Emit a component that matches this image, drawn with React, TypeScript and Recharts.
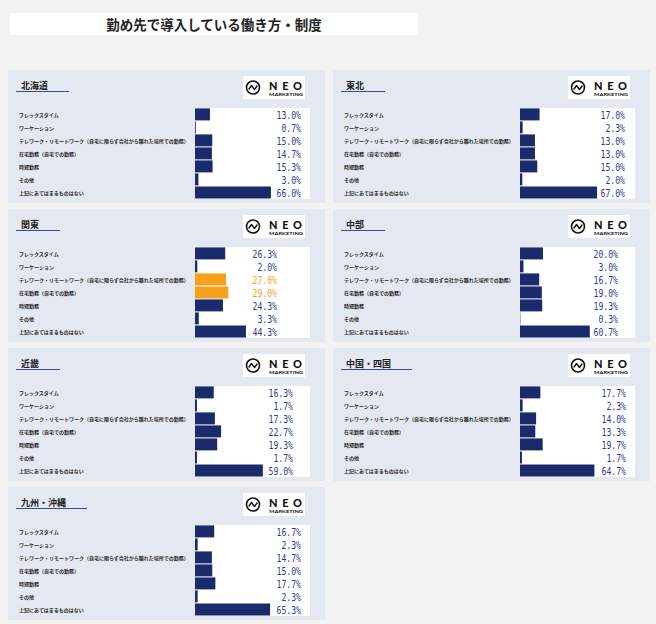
import { BarChart, Bar, XAxis, YAxis, Cell, LabelList } from 'recharts'

const title = '勤め先で導入している働き方・制度'

const categories = [
  'フレックスタイム',
  'ワーケーション',
  'テレワーク・リモートワーク（自宅に限らず会社から離れた場所での勤務）',
  '在宅勤務（自宅での勤務）',
  '時短勤務',
  'その他',
  '上記にあてはまるものはない',
]

const hokkaido = [13.0, 0.7, 15.0, 14.7, 15.3, 3.0, 66.0]
const tohoku = [17.0, 2.3, 13.0, 13.0, 15.0, 2.0, 67.0]
const kanto = [26.3, 2.0, 27.0, 29.0, 24.3, 3.3, 44.3]
const chubu = [20.0, 3.0, 16.7, 19.0, 19.3, 0.3, 60.7]
const kinki = [16.3, 1.7, 17.3, 22.7, 19.3, 1.7, 59.0]
const chugokuShikoku = [17.7, 2.3, 14.0, 13.3, 19.7, 1.7, 64.7]
const kyushu = [16.7, 2.3, 14.7, 15.0, 17.7, 2.3, 65.3]

const kantoHighlight = [2, 3]

const NAVY = '#1b2a6b'
const LABEL_NAVY = '#2c3b8f'
const ORANGE = '#f5a11c'

// layout of each panel: position on page + where the value labels end
const panels = [
  { name: '北海道', values: hokkaido, highlight: [] as number[], x: 8, y: 70, labelRight: 106 },
  { name: '東北', values: tohoku, highlight: [] as number[], x: 333, y: 70, labelRight: 105 },
  { name: '関東', values: kanto, highlight: kantoHighlight, x: 8, y: 209, labelRight: 82 },
  { name: '中部', values: chubu, highlight: [] as number[], x: 333, y: 209, labelRight: 98 },
  { name: '近畿', values: kinki, highlight: [] as number[], x: 8, y: 348, labelRight: 98 },
  { name: '中国・四国', values: chugokuShikoku, highlight: [] as number[], x: 333, y: 348, labelRight: 106 },
  { name: '九州・沖縄', values: kyushu, highlight: [] as number[], x: 8, y: 487, labelRight: 106 },
]

const JP = '"Noto Sans CJK JP", "Noto Sans", sans-serif'

function Logo() {
  return (
    <svg width={62} height={23} style={{ position: 'absolute', left: 235, top: 6 }}>
      <rect x={0} y={0} width={62} height={23} fill="#fff" />
      <circle cx={10} cy={11.5} r={6.5} fill="none" stroke="#111" strokeWidth={1.6} />
      <path d="M6,13 L8.5,9.5 L11.5,13.5 L14,10" fill="none" stroke="#111" strokeWidth={1.4} strokeLinejoin="round" strokeLinecap="round" />
      <text x={26} y={13.8} fontSize={11} fontWeight={900} fontFamily="Lato, sans-serif" fill="#111" textLength={33} lengthAdjust="spacing">
        NEO
      </text>
      <text x={26} y={19.6} fontSize={3.8} fontWeight={700} fontFamily="Lato, sans-serif" fill="#111" textLength={34} lengthAdjust="spacingAndGlyphs">
        MARKETING
      </text>
    </svg>
  )
}

const CategoryTick = (props: any) => {
  const { y, payload } = props
  return (
    <text x={0} y={y} fontSize={5} fontWeight={700} fill="#2a2a2a" fontFamily={JP} dominantBaseline="central" textAnchor="start">
      {payload.value}
    </text>
  )
}

function Panel({ panel }: { panel: (typeof panels)[number] }) {
  const data = categories.map((name, i) => ({ name, value: panel.values[i] }))
  const ValueLabel = (props: any) => {
    const { x, y, height, value, index } = props
    const text = `${Number(value).toFixed(1)}%`
    const hl = panel.highlight.includes(index)
    return (
      <text
        x={x + panel.labelRight}
        y={y + height / 2 + 1}
        fontSize={10}
        fontFamily='"DejaVu Sans Mono", monospace'
        fill={hl ? ORANGE : LABEL_NAVY}
        textAnchor="end"
        dominantBaseline="central"
        textLength={text.length * 4.9}
        lengthAdjust="spacingAndGlyphs"
      >
        {text}
      </text>
    )
  }
  return (
    <div
      style={{
        position: 'absolute',
        left: panel.x,
        top: panel.y,
        width: 317,
        height: 133,
        background: '#e4e8f0',
      }}
    >
      <span
        style={{
          position: 'absolute',
          left: 8,
          top: 10,
          lineHeight: '11px',
          fontSize: 9,
          fontWeight: 700,
          fontFamily: JP,
          color: '#1e1e1e',
          paddingLeft: 5,
          paddingRight: 21,
          borderBottom: '1.5px solid #3b4a9b',
          whiteSpace: 'nowrap',
        }}
      >
        {panel.name}
      </span>
      <Logo />
      <div style={{ position: 'absolute', left: 187, top: 38, width: 115, height: 91, background: '#fff' }} />
      <div style={{ position: 'absolute', left: 11, top: 38 }}>
        <BarChart
          width={291}
          height={91}
          data={data}
          layout="vertical"
          margin={{ top: 0, right: 0, bottom: 0, left: 0 }}
          barCategoryGap={0.4}
        >
          <XAxis type="number" domain={[0, 100]} hide />
          <YAxis
            type="category"
            dataKey="name"
            width={176}
            axisLine={false}
            tickLine={false}
            interval={0}
            tick={CategoryTick}
          />
          <Bar dataKey="value" isAnimationActive={false}>
            {data.map((_, i) => (
              <Cell key={i} fill={panel.highlight.includes(i) ? ORANGE : NAVY} />
            ))}
            <LabelList dataKey="value" content={ValueLabel} />
          </Bar>
        </BarChart>
      </div>
    </div>
  )
}

export default function App() {
  return (
    <div
      style={{
        position: 'absolute',
        left: 0,
        top: 0,
        width: 656,
        height: 624,
        background: '#f2f2f2',
        overflow: 'hidden',
      }}
    >
      <div
        style={{
          position: 'absolute',
          left: 10,
          top: 13,
          width: 408,
          height: 22,
          background: '#fff',
          display: 'flex',
          alignItems: 'center',
          justifyContent: 'center',
          fontFamily: JP,
          fontWeight: 700,
          fontSize: 13.5,
          color: '#222',
        }}
      >
        {title}
      </div>
      {panels.map((p) => (
        <Panel key={p.name} panel={p} />
      ))}
    </div>
  )
}
